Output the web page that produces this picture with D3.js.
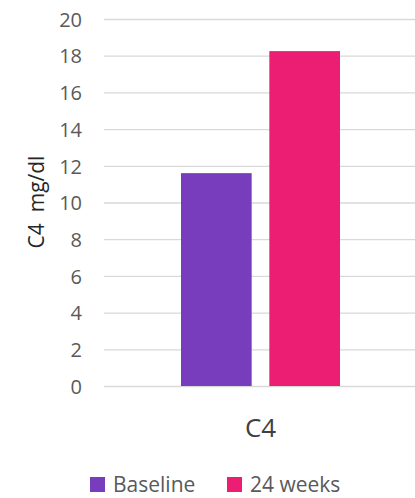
<!DOCTYPE html>
<html>
<head>
<meta charset="utf-8">
<script src="https://cdn.jsdelivr.net/npm/d3@7"></script>
<style>
  html, body { margin: 0; padding: 0; background: #fff; }
  svg { display: block; font-family: "Open Sans", "Noto Sans", sans-serif; }
</style>
</head>
<body>
<svg id="chart" width="415" height="498"></svg>
<script>
// C4 levels at baseline and after 24 weeks
const categories = ["C4"];
const seriesNames = ["Baseline", "24 weeks"];
const seriesColors = ["#773dbd", "#eb1e73"];
const baselineValues = [11.6];
const week24Values = [18.25];
const yTicks = [0, 2, 4, 6, 8, 10, 12, 14, 16, 18, 20];
const yTitle = "C4\u00a0 mg/dl";

const svg = d3.select("#chart");
const W = 415;
const margin = { left: 104, right: -2, top: 19, bottom: 112 };
const plotW = W - margin.left - margin.right;
const plotBottom = 386;

const y = d3.scaleLinear().domain([0, 20]).range([plotBottom, margin.top]);
const x0 = d3.scaleBand().domain(categories).range([margin.left, W - margin.right]);
const x1 = d3.scaleBand().domain(seriesNames).range([77, 236]).paddingInner(0.2);

// gridlines
const grid = svg.append("g")
  .attr("transform", `translate(${margin.left},0)`)
  .call(d3.axisLeft(y).tickValues(yTicks).tickSize(-plotW).tickFormat(""));
grid.select(".domain").remove();
grid.selectAll(".tick line").attr("stroke", "#d9d9d9").attr("stroke-width", 1.3);

// y tick labels
const yAxis = svg.append("g")
  .attr("transform", `translate(${margin.left},0)`)
  .call(d3.axisLeft(y).tickValues(yTicks).tickSize(0).tickPadding(22));
yAxis.select(".domain").remove();
yAxis.selectAll("text")
  .attr("fill", "#595959")
  .attr("dy", "0.36em")
  .style("font-size", "20px")
  .style("font-family", "'Open Sans', sans-serif");

// bars
const rows = categories.map((c, i) => ({
  cat: c,
  vals: [baselineValues[i], week24Values[i]]
}));
const groups = svg.append("g").selectAll("g")
  .data(rows).join("g")
  .attr("transform", d => `translate(${x0(d.cat)},0)`);
groups.selectAll("rect")
  .data(d => d.vals.map((v, j) => ({ name: seriesNames[j], v, color: seriesColors[j] })))
  .join("rect")
  .attr("x", d => x1(d.name))
  .attr("width", x1.bandwidth())
  .attr("y", d => y(d.v))
  .attr("height", d => plotBottom - y(d.v))
  .attr("fill", d => d.color);

// category label
svg.append("g").selectAll("text")
  .data(categories).join("text")
  .attr("x", d => x0(d) + 156.5)
  .attr("y", 437)
  .attr("text-anchor", "middle")
  .attr("fill", "#404040")
  .style("font-size", "26px")
  .text(d => d);

// y axis title
svg.append("text")
  .attr("transform", "translate(44,202) rotate(-90)")
  .attr("text-anchor", "middle")
  .attr("fill", "#262626")
  .style("font-size", "21px")
  .text(yTitle);

// legend
const legendX = [90, 227];
const legend = svg.append("g").selectAll("g")
  .data(seriesNames).join("g")
  .attr("transform", (d, i) => `translate(${legendX[i]},477)`);
legend.append("rect")
  .attr("width", 15).attr("height", 15)
  .attr("fill", (d, i) => seriesColors[i]);
legend.append("text")
  .attr("x", 23).attr("y", 15)
  .attr("fill", "#595959")
  .style("font-size", "21px")
  .text(d => d);
</script>
</body>
</html>
